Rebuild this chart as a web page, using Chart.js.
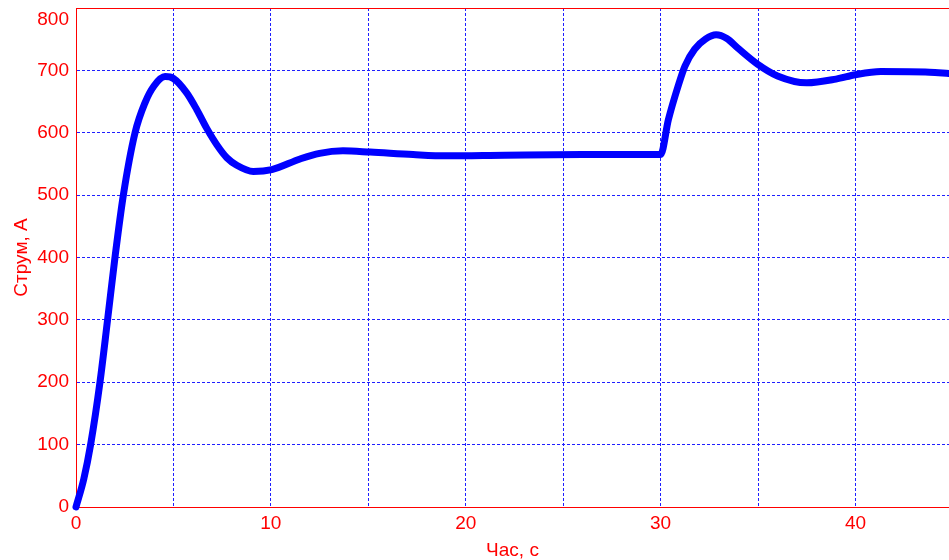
<!DOCTYPE html>
<html>
<head>
<meta charset="utf-8">
<script src="https://cdn.jsdelivr.net/npm/chart.js@4.4.1/dist/chart.umd.min.js"></script>
<style>
    html, body { margin: 0; padding: 0; background: #fff; }
    #wrap { width: 949px; height: 560px; }
</style>
</head>
<body>
<div id="wrap"><canvas id="currentChart" width="949" height="560"></canvas></div>
<script>
// time, s
const timeS = [0, 0.4, 0.75, 1.23, 1.62, 2.0, 2.43, 3.03, 3.54, 4.0, 4.57, 5.0, 5.68, 6.2, 6.71, 7.22, 7.74, 8.25, 9.1, 10.05,
    11.5, 12.5, 13.7, 15.1, 17.3, 19, 22, 26, 30,
    30.4, 30.9, 31.25, 31.75, 32.3, 32.85, 33.4, 33.95, 34.97, 36.0, 37.5, 39.0, 40.0, 41.3, 43.8, 44.8];
// current, A
const currentA = [0, 45, 100, 200, 300, 400, 500, 600, 648, 675, 690, 687, 664, 637, 607, 581, 560, 548, 538, 541,
    558, 567, 571, 569, 565, 563, 564, 565, 565,
    621, 675, 707, 734, 750, 757, 751, 736, 710, 691, 680, 686, 693, 698, 697, 695];

const xMin = 0, xMax = 44.8, xStep = 5;
const yMin = 0, yMax = 800, yStep = 100;
const xLabelEvery = 10;

const xTitle = 'Час, с';
const yTitle = 'Струм, А';

const red  = '#ff0000';
const blue = '#0000ff';
const gridBlue = '#1f1fff';
const font = { family: '"Liberation Sans", Arial, sans-serif', size: 19 };

const points = timeS.map((t, i) => ({ x: t, y: currentA[i] }));

// red frame line along the top + keep the top "800" label inside the canvas
const frameTweaks = {
    id: 'frameTweaks',
    beforeDraw(chart) {
        const yScale = chart.scales.y;
        const items = yScale.getLabelItems();
        const top = items.find(it => Number(it.label) === yMax);
        if (top) top.options.translation[1] = chart.chartArea.top + 12;
    },
    afterDraw(chart) {
        const { ctx, chartArea } = chart;
        ctx.save();
        ctx.strokeStyle = red;
        ctx.lineWidth = 1;
        ctx.beginPath();
        ctx.moveTo(chartArea.left, chartArea.top + 0.5);
        ctx.lineTo(chartArea.right, chartArea.top + 0.5);
        ctx.stroke();
        ctx.restore();
    }
};

const ctx = document.getElementById('currentChart').getContext('2d');
new Chart(ctx, {
    type: 'line',
    data: {
        datasets: [{
            data: points,
            borderColor: blue,
            borderWidth: 7,
            pointRadius: 0,
            cubicInterpolationMode: 'monotone',
            borderCapStyle: 'round',
            borderJoinStyle: 'round',
            fill: false,
            clip: false
        }]
    },
    options: {
        responsive: false,
        animation: false,
        devicePixelRatio: 1,
        layout: { padding: { top: 8, right: 0, left: 0, bottom: 0 } },
        plugins: {
            legend: { display: false },
            tooltip: { enabled: false }
        },
        scales: {
            x: {
                type: 'linear',
                min: xMin,
                max: xMax,
                afterFit: (s) => { s.height = 53; s.paddingRight = 0; s.paddingLeft = 0; },
                ticks: {
                    stepSize: xStep,
                    includeBounds: false,
                    autoSkip: false,
                    maxRotation: 0,
                    color: red,
                    font: font,
                    padding: 5,
                    callback: (v) => (v % xLabelEvery === 0 ? v : '')
                },
                grid: { color: gridBlue, lineWidth: 1, drawTicks: false },
                border: { color: red, width: 1, dash: [3, 2] },
                title: { display: true, text: xTitle, color: red, font: font, padding: { top: 0, bottom: -2 } }
            },
            y: {
                min: yMin,
                max: yMax,
                afterFit: (s) => { s.width = 76; s.paddingTop = 0; s.paddingBottom = 0; },
                ticks: {
                    stepSize: yStep,
                    color: red,
                    font: font,
                    padding: 7
                },
                grid: { color: gridBlue, lineWidth: 1, drawTicks: false },
                border: { color: red, width: 1, dash: [3, 2] },
                title: { display: true, text: yTitle, color: red, font: font, padding: { top: 10, bottom: 0 } }
            }
        }
    },
    plugins: [frameTweaks]
});
</script>
</body>
</html>
